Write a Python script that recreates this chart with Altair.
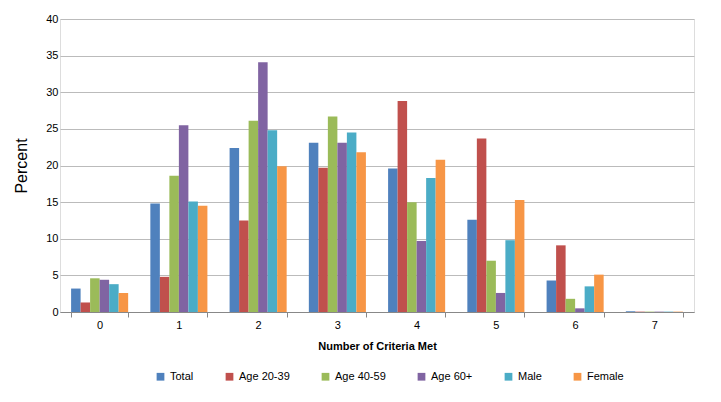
import altair as alt
import pandas as pd

criteria = ["0", "1", "2", "3", "4", "5", "6", "7"]
groups = ["Total", "Age 20-39", "Age 40-59", "Age 60+", "Male", "Female"]
colors = ["#4F81BD", "#C0504D", "#9BBB59", "#8064A2", "#4BACC6", "#F79646"]

total = [3.2, 14.8, 22.4, 23.1, 19.6, 12.6, 4.3, 0.1]
age_20_39 = [1.3, 4.8, 12.5, 19.7, 28.8, 23.7, 9.1, 0.05]
age_40_59 = [4.6, 18.6, 26.1, 26.7, 15.0, 7.0, 1.8, 0.05]
age_60 = [4.4, 25.5, 34.1, 23.1, 9.7, 2.6, 0.5, 0.05]
male = [3.8, 15.1, 24.8, 24.5, 18.3, 9.8, 3.5, 0.05]
female = [2.6, 14.5, 19.9, 21.8, 20.8, 15.3, 5.1, 0.05]

rows = []
for g, vals in zip(groups, [total, age_20_39, age_40_59, age_60, male, female]):
    for c, v in zip(criteria, vals):
        rows.append({"criteria": c, "group": g, "percent": v})
df = pd.DataFrame(rows)

chart = alt.Chart(df).mark_bar().encode(
    x=alt.X("criteria:N", sort=criteria, title="Number of Criteria Met",
            scale=alt.Scale(paddingInner=0.28, paddingOuter=0.14),
            axis=alt.Axis(labelAngle=0, tickBand="extent", titleFontWeight="bold",
                          titleFontSize=11, labelFontSize=11, domainColor="#888",
                          tickColor="#888", titlePadding=10)),
    xOffset=alt.XOffset("group:N", sort=groups, scale=alt.Scale(paddingInner=0, paddingOuter=0)),
    y=alt.Y("percent:Q", title="Percent", scale=alt.Scale(domain=[0, 40]),
            axis=alt.Axis(values=list(range(0, 41, 5)), gridColor="#bbb",
                          domain=False, ticks=False, labelFontSize=11,
                          titleFontSize=16, titleFontWeight="normal", titlePadding=16)),
    color=alt.Color("group:N", sort=groups,
                    scale=alt.Scale(domain=groups, range=colors),
                    legend=alt.Legend(orient="none", legendX=95, legendY=352,
                                      direction="horizontal", title=None, symbolType="square",
                                      labelFontSize=11, columnPadding=30, symbolSize=60)),
).properties(width=634, height=293).configure_view(stroke=None).configure(
    font="Liberation Sans"
)

chart.save("out.html", embed_options={"renderer": "svg", "actions": False})
